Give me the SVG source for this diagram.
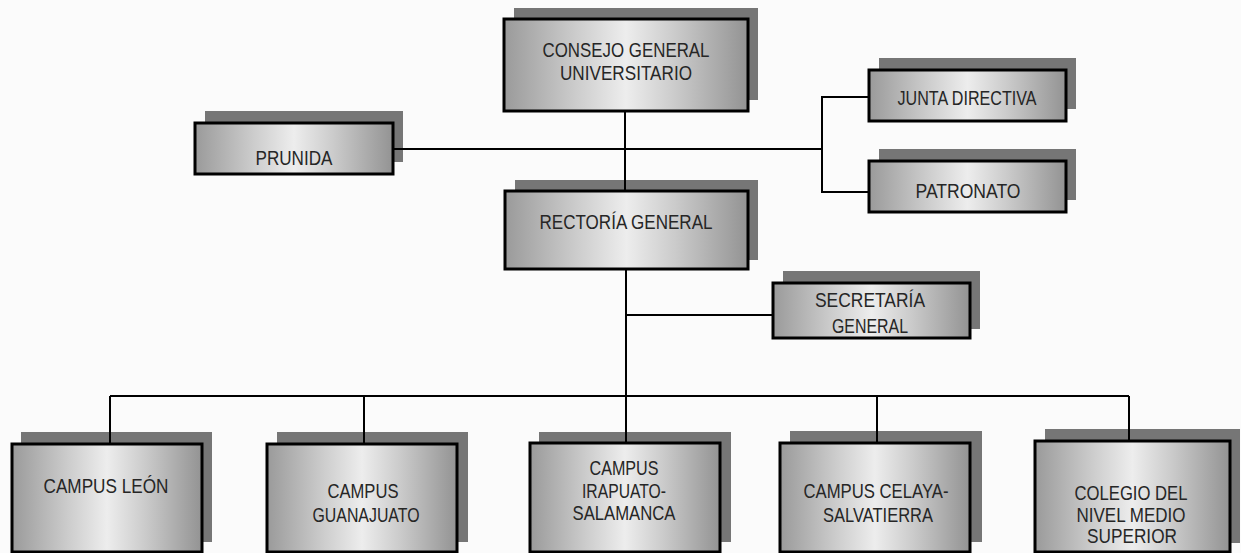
<svg xmlns="http://www.w3.org/2000/svg" width="1241" height="553" viewBox="0 0 1241 553">
<defs>
<linearGradient id="metal" x1="0" y1="0" x2="1" y2="0">
<stop offset="0" stop-color="#9a9a9a"/>
<stop offset="0.3" stop-color="#cdcdcd"/>
<stop offset="0.5" stop-color="#ededed"/>
<stop offset="0.7" stop-color="#cbcbcb"/>
<stop offset="1" stop-color="#939393"/>
</linearGradient>
</defs>
<style>
.sh{fill:#767676}
.bx{fill:url(#metal);stroke:#000;stroke-width:3}
.t{font-family:"Liberation Sans",Arial,sans-serif;font-size:21px;fill:#262626;text-anchor:middle}
.c{fill:none;stroke:#000;stroke-width:2}
</style>
<rect width="1241" height="553" fill="#fbfbfb"/>
<g id="consejo">
<rect class="sh" x="514" y="8" width="244" height="92"/>
<rect class="bx" x="504" y="19" width="244" height="92"/>
<text class="t" x="626" y="57" textLength="167" lengthAdjust="spacingAndGlyphs">CONSEJO GENERAL</text>
<text class="t" x="626" y="80" textLength="132" lengthAdjust="spacingAndGlyphs">UNIVERSITARIO</text>
</g>
<g id="prunida">
<rect class="sh" x="205" y="111" width="198" height="51"/>
<rect class="bx" x="195" y="123" width="198" height="51"/>
<text class="t" x="294" y="165" textLength="77" lengthAdjust="spacingAndGlyphs">PRUNIDA</text>
</g>
<g id="junta">
<rect class="sh" x="879" y="58" width="197" height="51"/>
<rect class="bx" x="869" y="70" width="197" height="51"/>
<text class="t" x="967" y="105" textLength="139" lengthAdjust="spacingAndGlyphs">JUNTA DIRECTIVA</text>
</g>
<g id="patronato">
<rect class="sh" x="879" y="149" width="197" height="51"/>
<rect class="bx" x="869" y="161" width="197" height="51"/>
<text class="t" x="968" y="198" textLength="105" lengthAdjust="spacingAndGlyphs">PATRONATO</text>
</g>
<g id="rectoria">
<rect class="sh" x="515" y="180" width="243" height="80"/>
<rect class="bx" x="505" y="191" width="243" height="78"/>
<text class="t" x="626" y="229" textLength="173" lengthAdjust="spacingAndGlyphs">RECTORÍA GENERAL</text>
</g>
<g id="secretaria">
<rect class="sh" x="783" y="271" width="197" height="58"/>
<rect class="bx" x="773" y="283" width="197" height="55"/>
<text class="t" x="870" y="307" textLength="110" lengthAdjust="spacingAndGlyphs">SECRETARÍA</text>
<text class="t" x="870" y="333" textLength="76" lengthAdjust="spacingAndGlyphs">GENERAL</text>
</g>
<g id="leon">
<rect class="sh" x="21" y="432" width="191" height="110"/>
<rect class="bx" x="12" y="444" width="190" height="108"/>
<text class="t" x="106" y="493" textLength="125" lengthAdjust="spacingAndGlyphs">CAMPUS LEÓN</text>
</g>
<g id="guanajuato">
<rect class="sh" x="277" y="432" width="191" height="110"/>
<rect class="bx" x="267" y="444" width="190" height="108"/>
<text class="t" x="363" y="498" textLength="71" lengthAdjust="spacingAndGlyphs">CAMPUS</text>
<text class="t" x="366" y="522" textLength="107" lengthAdjust="spacingAndGlyphs">GUANAJUATO</text>
</g>
<g id="irapuato">
<rect class="sh" x="539" y="432" width="192" height="110"/>
<rect class="bx" x="530" y="443" width="190" height="109"/>
<text class="t" x="624" y="475" textLength="69" lengthAdjust="spacingAndGlyphs">CAMPUS</text>
<text class="t" x="624" y="498" textLength="84" lengthAdjust="spacingAndGlyphs">IRAPUATO-</text>
<text class="t" x="624" y="520" textLength="103" lengthAdjust="spacingAndGlyphs">SALAMANCA</text>
</g>
<g id="celaya">
<rect class="sh" x="790" y="431" width="192" height="111"/>
<rect class="bx" x="780" y="443" width="190" height="109"/>
<text class="t" x="876" y="498" textLength="145" lengthAdjust="spacingAndGlyphs">CAMPUS CELAYA-</text>
<text class="t" x="878" y="522" textLength="110" lengthAdjust="spacingAndGlyphs">SALVATIERRA</text>
</g>
<g id="colegio">
<rect class="sh" x="1045" y="429" width="195" height="114"/>
<rect class="bx" x="1035" y="441" width="195" height="111"/>
<text class="t" x="1131" y="500" textLength="113" lengthAdjust="spacingAndGlyphs">COLEGIO DEL</text>
<text class="t" x="1131" y="522" textLength="109" lengthAdjust="spacingAndGlyphs">NIVEL MEDIO</text>
<text class="t" x="1132" y="543" textLength="90" lengthAdjust="spacingAndGlyphs">SUPERIOR</text>
</g>
<g id="connectors">
<path class="c" d="M625 111V191"/>
<path class="c" d="M393 149H822"/>
<path class="c" d="M869 97H822V192H869"/>
<path class="c" d="M626 269V443"/>
<path class="c" d="M626 315H773"/>
<path class="c" d="M110 396H1129"/>
<path class="c" d="M110 396V444M364 396V444M877 396V443M1129 396V441"/>
</g>
</svg>
